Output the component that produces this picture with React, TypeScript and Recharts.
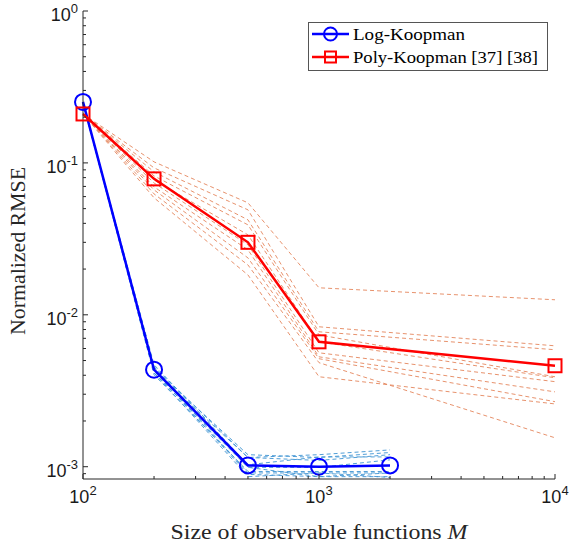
import { LineChart, Line, XAxis, YAxis, Legend } from 'recharts';

// observable sizes M
const logM = [100, 200, 500, 1000, 2000];
const polyM = [100, 200, 500, 1000, 10000];

// averaged normalized RMSE
const logMean = [0.252, 0.00435, 0.00102, 0.001, 0.00102];
const polyMean = [0.21, 0.0785, 0.03, 0.00664, 0.00462];

// individual runs (thin dashed)
const logRuns = [
  [0.25, 0.00455, 0.00115, 0.0012, 0.00129],
  [0.25, 0.00441, 0.0012, 0.00115, 0.00124],
  [0.25, 0.00428, 0.00115, 0.0011, 0.0012],
  [0.25, 0.00469, 0.00103, 0.00116, 0.00116],
  [0.25, 0.00415, 0.00099, 0.00099, 0.00111],
  [0.25, 0.00403, 0.00093, 0.00093, 0.00093],
  [0.25, 0.00441, 0.00091, 0.00091, 0.00091],
  [0.25, 0.00428, 0.00089, 0.00086, 0.00086],
  [0.25, 0.00415, 0.00086, 0.00091, 0.00085],
  [0.25, 0.00455, 0.00099, 0.00086, 0.00091],
];
const polyRuns = [
  [0.21, 0.1016, 0.0546, 0.01506, 0.01256],
  [0.21, 0.0927, 0.0491, 0.00834, 0.00625],
  [0.21, 0.0873, 0.0422, 0.00773, 0.00589],
  [0.21, 0.0821, 0.0391, 0.00738, 0.00391],
  [0.21, 0.0773, 0.0336, 0.00664, 0.00385],
  [0.21, 0.0738, 0.0289, 0.00562, 0.00363],
  [0.21, 0.0695, 0.0268, 0.00529, 0.00311],
  [0.21, 0.0664, 0.0237, 0.00514, 0.00268],
  [0.21, 0.0625, 0.0213, 0.00484, 0.00155],
  [0.21, 0.0589, 0.0183, 0.00391, 0.00259],
];

const xTicks = [100, 200, 300, 400, 500, 600, 700, 800, 900, 1000, 2000, 3000, 4000, 5000, 6000, 7000, 8000, 9000, 10000];
const yTicks = [
  0.0009, 0.001, 0.002, 0.003, 0.004, 0.005, 0.006, 0.007, 0.008, 0.009,
  0.01, 0.02, 0.03, 0.04, 0.05, 0.06, 0.07, 0.08, 0.09,
  0.1, 0.2, 0.3, 0.4, 0.5, 0.6, 0.7, 0.8, 0.9, 1,
];

const toRows = (ms: number[], vs: number[]) => ms.map((m, i) => ({ m, v: vs[i] }));

const AX = '#262626';
const TICK_FONT = '"Liberation Sans", Arial, sans-serif';
const SERIF = '"Liberation Serif", "Times New Roman", serif';

const isMajor = (v: number) => Math.abs(Math.log10(v) - Math.round(Math.log10(v))) < 1e-6;
const expOf = (v: number) => String(Math.round(Math.log10(v)));

function Pow({ x, y, v, anchor }: any) {
  return (
    <text x={x} y={y} textAnchor={anchor} style={{ fontFamily: TICK_FONT }} fontSize={18} fill="#1a1a1a">
      <tspan>10</tspan>
      <tspan dy={-8} fontSize={13}>{expOf(v)}</tspan>
    </text>
  );
}

function BottomTick({ x, y, payload }: any) {
  const major = isMajor(payload.value);
  return (
    <g>
      <line x1={x} x2={x} y1={y} y2={y - (major ? 5 : 3)} stroke={AX} />
      {major && <Pow x={x} y={y + 24} v={payload.value} anchor="middle" />}
    </g>
  );
}

function TopTick({ x, y, payload }: any) {
  const major = isMajor(payload.value);
  return <line x1={x} x2={x} y1={y} y2={y + (major ? 5 : 3)} stroke={AX} />;
}

function LeftTick({ x, y, payload }: any) {
  const major = isMajor(payload.value);
  return (
    <g>
      <line x1={x} x2={x + (major ? 5 : 3)} y1={y} y2={y} stroke={AX} />
      {major && <Pow x={x - 5} y={y + 10} v={payload.value} anchor="end" />}
    </g>
  );
}

function RightTick({ x, y, payload }: any) {
  const major = isMajor(payload.value);
  return <line x1={x} x2={x - (major ? 5 : 3)} y1={y} y2={y} stroke={AX} />;
}

function XLabel({ viewBox }: any) {
  const cx = viewBox.x + viewBox.width / 2;
  return (
    <text x={cx} y={viewBox.y + 60} textAnchor="middle" style={{ fontFamily: SERIF }} fontSize={21}
      fill={AX} textLength={297} lengthAdjust="spacingAndGlyphs">
      Size of observable functions <tspan fontStyle="italic">M</tspan>
    </text>
  );
}

function YLabel({ viewBox }: any) {
  const cy = viewBox.y + viewBox.height / 2 + 6;
  const x = 25;
  return (
    <text x={x} y={cy} transform={`rotate(-90 ${x} ${cy})`} textAnchor="middle" style={{ fontFamily: SERIF }}
      fontSize={21} fill={AX} textLength={168} lengthAdjust="spacingAndGlyphs">
      Normalized RMSE
    </text>
  );
}

function SquareDot({ cx, cy, index }: any) {
  if (cx == null || cy == null) return null;
  return <rect key={index} x={cx - 6.5} y={cy - 6.5} width={13} height={13} fill="none" stroke="#FF0000" strokeWidth={2} />;
}

function LegendBox() {
  return (
    <svg width={240} height={49} style={{ display: 'block' }}>
      <rect x={0.5} y={0.5} width={239} height={48} fill="#fff" stroke="#555" />
      <line x1={4} x2={41} y1={12} y2={12} stroke="#0000FF" strokeWidth={2.5} />
      <circle cx={22.5} cy={12} r={6.5} fill="none" stroke="#0000FF" strokeWidth={2} />
      <text x={45} y={17.5} style={{ fontFamily: SERIF }} fontSize={17} fill="#000" textLength={112} lengthAdjust="spacingAndGlyphs">
        Log-Koopman
      </text>
      <line x1={4} x2={41} y1={35} y2={35} stroke="#FF0000" strokeWidth={2.5} />
      <rect x={17} y={29.5} width={11} height={11} fill="none" stroke="#FF0000" strokeWidth={2} />
      <text x={45} y={40.5} style={{ fontFamily: SERIF }} fontSize={17} fill="#000" textLength={185} lengthAdjust="spacingAndGlyphs">
        Poly-Koopman [37] [38]
      </text>
    </svg>
  );
}

export default function App() {
  return (
    <div style={{ position: 'absolute', left: 0, top: 0, background: '#fff' }}>
      <LineChart width={570} height={544} margin={{ top: 11, right: 15, left: 0, bottom: 0 }}>
        <XAxis xAxisId="b" dataKey="m" type="number" scale="log" domain={[100, 10000]} ticks={xTicks}
          interval={0} tickSize={0} tickMargin={0} tickLine={false} tick={<BottomTick />}
          axisLine={{ stroke: AX }} height={65} label={<XLabel />} />
        <XAxis xAxisId="t" orientation="top" dataKey="m" type="number" scale="log" domain={[100, 10000]}
          ticks={xTicks} interval={0} tickSize={0} tickMargin={0} tickLine={false} tick={<TopTick />}
          axisLine={{ stroke: AX }} height={0} />
        <YAxis yAxisId="l" type="number" scale="log" domain={[0.00083, 1]} ticks={yTicks} interval={0}
          tickSize={0} tickMargin={0} tickLine={false} tick={<LeftTick />} axisLine={{ stroke: AX }}
          width={83} label={<YLabel />} />
        <YAxis yAxisId="r" orientation="right" type="number" scale="log" domain={[0.00083, 1]} ticks={yTicks}
          interval={0} tickSize={0} tickMargin={0} tickLine={false} tick={<RightTick />}
          axisLine={{ stroke: AX }} width={0} />
        <Legend layout="vertical" align="center" verticalAlign="middle" content={<LegendBox />}
          wrapperStyle={{ position: 'absolute', left: 308, top: 22, width: 240, height: 49 }} />
        {polyRuns.map((r, i) => (
          <Line key={`p${i}`} xAxisId="b" yAxisId="l" data={toRows(polyM, r)} dataKey="v" stroke="#E4865C"
            strokeWidth={0.9} strokeDasharray="4 3" dot={false} activeDot={false} legendType="none"
            isAnimationActive={false} />
        ))}
        {logRuns.map((r, i) => (
          <Line key={`l${i}`} xAxisId="b" yAxisId="l" data={toRows(logM, r)} dataKey="v" stroke="#3D93D2"
            strokeWidth={0.9} strokeDasharray="4 3" dot={false} activeDot={false} legendType="none"
            isAnimationActive={false} />
        ))}
        <Line xAxisId="b" yAxisId="l" data={toRows(logM, logMean)} dataKey="v" name="Log-Koopman"
          stroke="#0000FF" strokeWidth={2.5} dot={{ r: 8, stroke: '#0000FF', strokeWidth: 2, fill: 'none' }}
          activeDot={false} isAnimationActive={false} />
        <Line xAxisId="b" yAxisId="l" data={toRows(polyM, polyMean)} dataKey="v" name="Poly-Koopman [37] [38]"
          stroke="#FF0000" strokeWidth={2.5} dot={<SquareDot />} activeDot={false} isAnimationActive={false} />
      </LineChart>
    </div>
  );
}
